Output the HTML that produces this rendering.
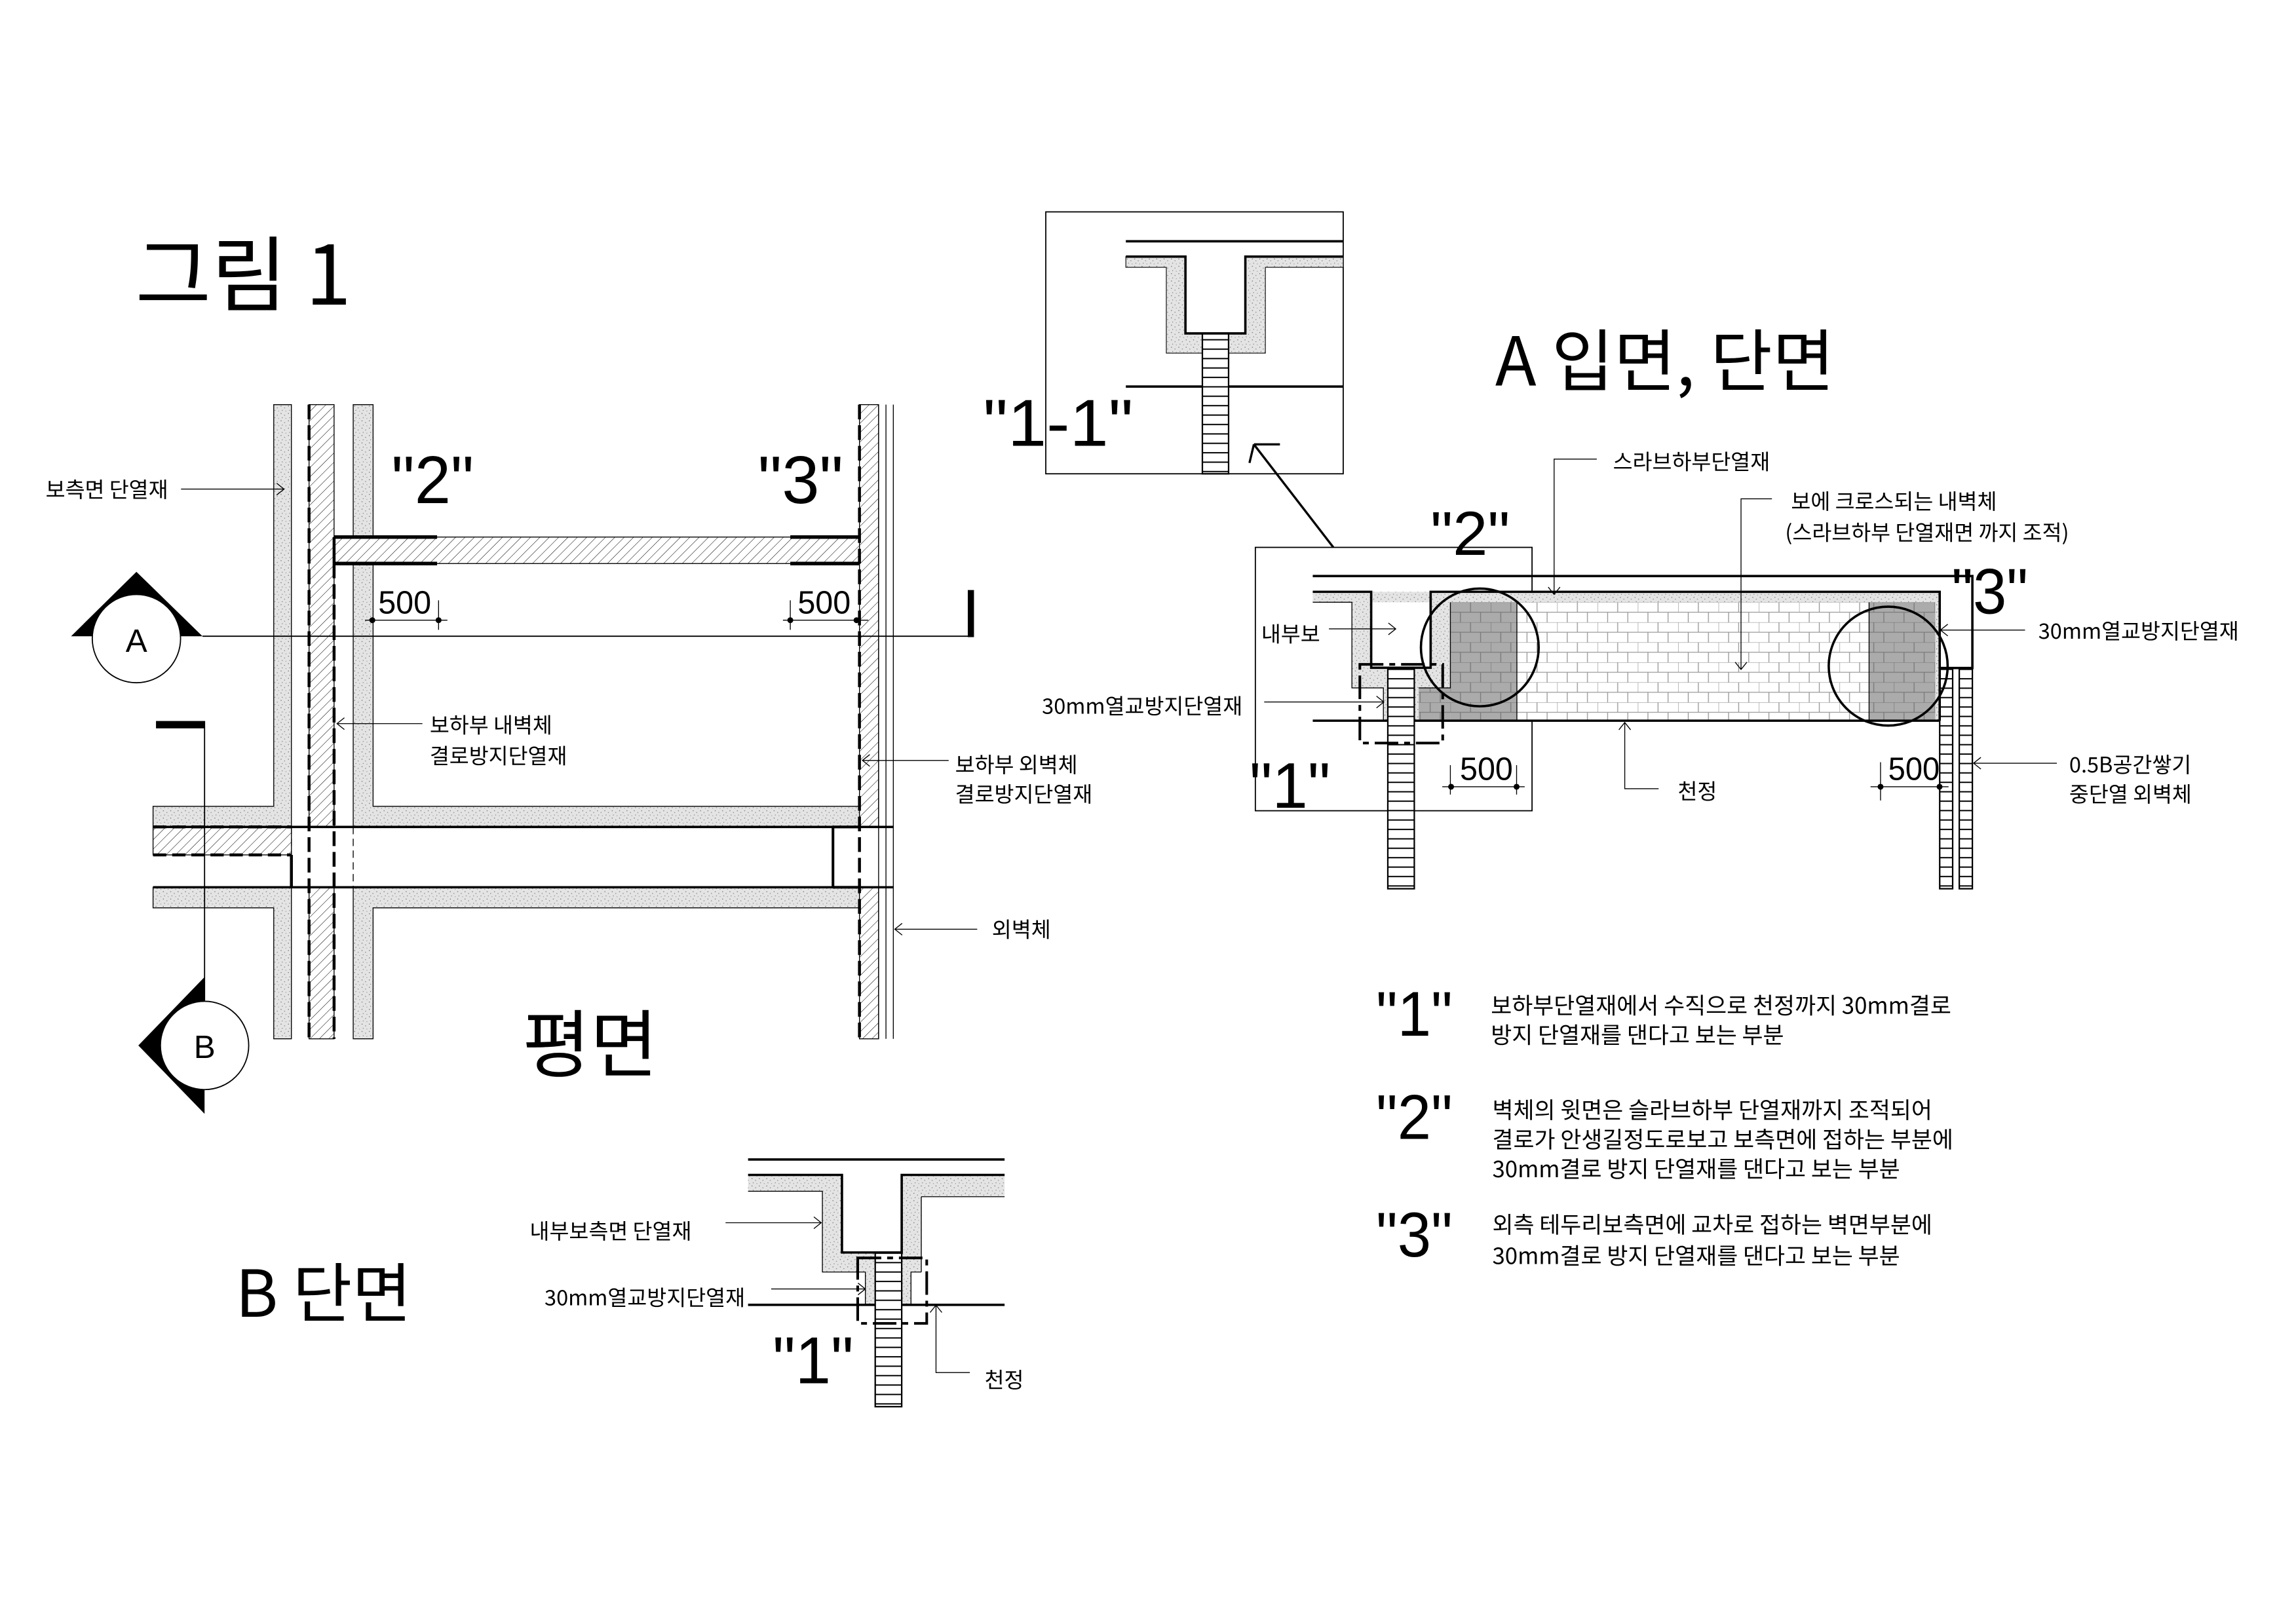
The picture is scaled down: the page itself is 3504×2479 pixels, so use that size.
<!DOCTYPE html>
<html><head><meta charset="utf-8">
<style>
html,body{margin:0;padding:0;background:#fff;}
svg{display:block;}
text{font-family:"Liberation Sans","Noto Sans CJK KR",sans-serif;fill:#000;}
.k{font-family:"Noto Sans CJK KR","Liberation Sans",sans-serif;}
</style></head>
<body>
<svg width="3504" height="2479" viewBox="0 0 1560.1 1103.7" preserveAspectRatio="none" xmlns="http://www.w3.org/2000/svg">
<defs>
<pattern id="st" width="5" height="5" patternUnits="userSpaceOnUse">
<rect width="5" height="5" fill="#e4e4e4"/>
<circle cx="1" cy="1" r="0.35" fill="#777"/><circle cx="3.4" cy="2.2" r="0.35" fill="#888"/>
<circle cx="1.8" cy="3.9" r="0.3" fill="#777"/><circle cx="4.3" cy="4.4" r="0.3" fill="#999"/>
</pattern>
<pattern id="ht" width="4.5" height="4.5" patternUnits="userSpaceOnUse" patternTransform="rotate(45)">
<rect width="4.5" height="4.5" fill="#fff"/><line x1="0" y1="0" x2="0" y2="4.5" stroke="#000" stroke-width="0.45"/>
</pattern>
<pattern id="bl" width="27.4" height="13.6" patternUnits="userSpaceOnUse" x="1030.7" y="409.3">
<rect width="27.4" height="13.6" fill="#fff"/>
<path d="M0,0H27.4M0,6.8H27.4M0,0V6.8M13.7,0V6.8M6.85,6.8V13.6M20.55,6.8V13.6" stroke="#999" stroke-width="0.6" fill="none"/>
</pattern>
<pattern id="bg" width="27.4" height="13.6" patternUnits="userSpaceOnUse" x="985.5" y="409.3">
<rect width="27.4" height="13.6" fill="#ababab"/>
<path d="M0,0H27.4M0,6.8H27.4M0,0V6.8M13.7,0V6.8M6.85,6.8V13.6M20.55,6.8V13.6" stroke="#7a7a7a" stroke-width="0.6" fill="none"/>
</pattern>
<pattern id="ld" width="40" height="6.4" patternUnits="userSpaceOnUse" x="0" y="0">
<rect width="40" height="6.4" fill="#fff"/><line x1="0" y1="0.5" x2="40" y2="0.5" stroke="#000" stroke-width="0.9"/>
</pattern>
</defs>

<!-- Titles -->
<text x="92" y="207" class="k" font-size="56">그림 1</text>
<text x="1016" y="262" class="k" font-size="46">A 입면, 단면</text>
<text x="355" y="728" class="k" font-size="50">평면</text>
<text x="160" y="895" class="k" font-size="44">B 단면</text>

<!-- ================= PLAN ================= -->
<g stroke="#000" stroke-width="0.6">
<!-- stipple walls -->
<path d="M186,275H198V562H104V548H186Z" fill="url(#st)"/>
<path d="M104,603H198V706H186V617H104Z" fill="url(#st)"/>
<path d="M240,275H253.5V365H240Z" fill="url(#st)"/>
<path d="M240,383H253.5V548H584V562H240Z" fill="url(#st)"/>
<path d="M240,603H584V617H253.5V706H240Z" fill="url(#st)"/>
<!-- hatch -->
<rect x="210" y="275" width="17" height="287" fill="url(#ht)"/>
<rect x="210" y="603" width="17" height="103" fill="url(#ht)"/>
<rect x="227" y="365" width="357" height="18" fill="url(#ht)"/>
<rect x="584" y="275" width="13" height="287" fill="url(#ht)"/>
<rect x="584" y="603" width="13" height="103" fill="url(#ht)"/>
<rect x="104" y="562" width="94" height="19" fill="url(#ht)"/>
<!-- thin lines -->
<path d="M597,275V706M602,275V706M607,275V706" fill="none"/>
<path d="M198,562V603M240,562V603" fill="none" stroke-dasharray="5 3"/>
</g>
<g stroke="#000" fill="none">
<path d="M104,562H607M104,603H607" stroke-width="1.6"/>
<path d="M104,562H198M104,581H198" stroke-width="2" stroke-dasharray="9 4"/>
<path d="M198,581V603" stroke-width="2"/>
<path d="M566,562V603M566,562H584M566,603H584" stroke-width="1.8"/>
<path d="M210,275V706" stroke-width="2" stroke-dasharray="10 4"/>
<path d="M227,383V706" stroke-width="2" stroke-dasharray="10 4"/>
<path d="M227,365V383" stroke-width="2"/>
<path d="M584,275V706" stroke-width="2" stroke-dasharray="10 4"/>
<path d="M227,365H297M227,383H297M537,365H584M537,383H584" stroke-width="2.4"/>
</g>
<!-- dims plan -->
<g stroke="#000" stroke-width="0.6" fill="none">
<path d="M248,421.5H304M298,408V428M532,421.5H590M537,408V428"/>
</g>
<circle cx="253" cy="421.5" r="2" fill="#000"/><circle cx="298" cy="421.5" r="2" fill="#000"/>
<circle cx="537" cy="421.5" r="2" fill="#000"/><circle cx="582" cy="421.5" r="2" fill="#000"/>
<text x="257" y="417" font-size="22" textLength="36" lengthAdjust="spacingAndGlyphs">500</text>
<text x="542" y="417" font-size="22" textLength="36" lengthAdjust="spacingAndGlyphs">500</text>
<text x="266" y="342" font-size="46" textLength="56" lengthAdjust="spacingAndGlyphs">"2"</text>
<text x="515" y="342" font-size="46" textLength="58" lengthAdjust="spacingAndGlyphs">"3"</text>

<!-- section A marker -->
<path d="M137.6,432.4H661.5" stroke="#000" stroke-width="0.8"/>
<rect x="657.6" y="401" width="4.2" height="32" fill="#000"/>
<path d="M48.3,432.4L92.7,388.6L137.6,432.4Z" fill="#000"/>
<circle cx="92.7" cy="434" r="30" fill="#fff" stroke="#000" stroke-width="0.8"/>
<text x="92.7" y="443" font-size="22" text-anchor="middle">A</text>
<!-- section B marker -->
<path d="M139,490V680" stroke="#000" stroke-width="0.8"/>
<rect x="106" y="490" width="33" height="5" fill="#000"/>
<path d="M94,710.5L139,664L139,757Z" fill="#000"/>
<circle cx="139" cy="710.5" r="30" fill="#fff" stroke="#000" stroke-width="0.8"/>
<text x="139" y="719" font-size="22" text-anchor="middle">B</text>

<!-- plan labels -->
<g stroke="#000" stroke-width="0.6" fill="none">
<path d="M123,332.4H193M188,328.4L193,332.4L188,336.4"/>
<path d="M287,491.8H229M234,487.8L229,491.8L234,495.8"/>
<path d="M644.6,516.8H586M591,512.8L586,516.8L591,520.8"/>
<path d="M664,631.5H608M613,627.5L608,631.5L613,635.5"/>
</g>
<text x="31" y="338" class="k" font-size="14.5">보측면 단열재</text>
<text x="292" y="498" class="k" font-size="14.5">보하부 내벽체</text>
<text x="292" y="519" class="k" font-size="14.5">결로방지단열재</text>
<text x="649" y="525" class="k" font-size="14.5">보하부 외벽체</text>
<text x="649" y="545" class="k" font-size="14.5">결로방지단열재</text>
<text x="674" y="637" class="k" font-size="14.5">외벽체</text>

<!-- ================= 1-1 BOX ================= -->
<rect x="710.6" y="144" width="202.1" height="178" fill="none" stroke="#000" stroke-width="0.8"/>
<g stroke="#000" stroke-width="0.5">
<path d="M765,174.4H805.5V226.6H846.2V174.4H912.7V181.7H859.8V240H834.8V226.6H817V240H792.5V181.7H765Z" fill="url(#st)"/>
</g>
<rect x="817" y="226.6" width="17.8" height="95.4" fill="url(#ld)" stroke="#000" stroke-width="1"/>
<g stroke="#000" fill="none" stroke-width="1.6">
<path d="M765,164H912.7"/>
<path d="M765,174.4H805.5V226.6H846.2V174.4H912.7"/>
<path d="M765,262.7H817M834.8,262.7H912.7"/>
</g>
<text x="668" y="303" font-size="45" textLength="102" lengthAdjust="spacingAndGlyphs">"1-1"</text>

<!-- ================= A SECTION ================= -->
<rect x="853" y="372" width="188" height="179" fill="none" stroke="#000" stroke-width="0.8"/>
<path d="M906,372L852,302M852,302H869.7M852,302L849,314.6" stroke="#000" stroke-width="1.5" fill="none"/>
<!-- stipple -->
<g stroke="none">
<rect x="892" y="402.2" width="426" height="7.1" fill="url(#st)"/>
<rect x="918.6" y="409.3" width="13.1" height="58.2" fill="url(#st)"/>
<rect x="918.6" y="453.8" width="67" height="13.7" fill="url(#st)"/>
<rect x="972.1" y="409.3" width="13.4" height="58.2" fill="url(#st)"/>
<rect x="940" y="467.5" width="3" height="22.3" fill="url(#st)"/>
<rect x="961" y="467.5" width="3" height="22.3" fill="url(#st)"/>
<rect x="1315" y="409.3" width="3" height="80.5" fill="url(#st)"/>
</g>
<rect x="1030.7" y="409.3" width="239.3" height="80.5" fill="url(#bl)"/>
<rect x="985.5" y="409.3" width="45.2" height="80.5" fill="url(#bg)"/>
<rect x="964" y="467.5" width="21.5" height="22.3" fill="url(#bg)"/>
<rect x="1270" y="409.3" width="45" height="80.5" fill="url(#bg)"/>
<path d="M892,409.3H918.6V467.5H940V489.8M1030.7,409.3V489.8M1270,409.3V489.8M985.5,409.3V467.5H964" stroke="#000" stroke-width="0.6" fill="none"/>
<!-- bricks -->
<rect x="943" y="453.8" width="18" height="150.2" fill="url(#ld)" stroke="#000" stroke-width="1"/>
<rect x="1318" y="454" width="8.8" height="150" fill="url(#ld)" stroke="#000" stroke-width="1"/>
<rect x="1331.3" y="454" width="8.9" height="150" fill="url(#ld)" stroke="#000" stroke-width="1"/>
<g stroke="#000" fill="none" stroke-width="1.6">
<path d="M892,391.5H1340.2V454H1318"/>
<path d="M892,402.2H931.7V453.8H972.1V402.2H1318V489.8"/>
<path d="M892,489.8H943M961,489.8H1318"/>
<path d="M924,451.5H980.3V505H924Z" stroke-width="1.8" stroke-dasharray="16 4 4 4"/>
</g>
<circle cx="1005.5" cy="440" r="40" fill="none" stroke="#000" stroke-width="1.6"/>
<circle cx="1283" cy="452.7" r="40.4" fill="none" stroke="#000" stroke-width="1.6"/>
<!-- dims A -->
<g stroke="#000" stroke-width="0.6" fill="none">
<path d="M980,534.7H1036M985.5,520V540M1030.5,520V540M1271,534.7H1324M1277.8,518V544"/>
</g>
<circle cx="986" cy="534.7" r="2" fill="#000"/><circle cx="1030.5" cy="534.7" r="2" fill="#000"/>
<circle cx="1277.8" cy="534.7" r="2" fill="#000"/><circle cx="1317.9" cy="534.7" r="2" fill="#000"/>
<text x="992" y="530" font-size="22" textLength="36" lengthAdjust="spacingAndGlyphs">500</text>
<text x="1283" y="530" font-size="22" textLength="35" lengthAdjust="spacingAndGlyphs">500</text>
<text x="972" y="377" font-size="42" textLength="54" lengthAdjust="spacingAndGlyphs">"2"</text>
<text x="1326" y="417" font-size="44" textLength="52" lengthAdjust="spacingAndGlyphs">"3"</text>
<text x="849" y="549" font-size="44" textLength="55" lengthAdjust="spacingAndGlyphs">"1"</text>
<!-- A leaders -->
<g stroke="#000" stroke-width="0.6" fill="none">
<path d="M1085,312H1056V404M1052,399L1056,404L1060,399"/>
<path d="M1204,339H1183V455M1179,450L1183,455L1187,450"/>
<path d="M903,427.4H948.4M943.4,423.4L948.4,427.4L943.4,431.4"/>
<path d="M859,477.1H940.3M935.3,473.1L940.3,477.1L935.3,481.1"/>
<path d="M1376,428.2H1318.5M1323.5,424.2L1318.5,428.2L1323.5,432.2"/>
<path d="M1104,491V536H1127M1100,496L1104,491L1108,496"/>
<path d="M1397.6,518.7H1341M1346,514.7L1341,518.7L1346,522.7"/>
</g>
<text x="1096" y="319" class="k" font-size="14.5">스라브하부단열재</text>
<text x="1217" y="346" class="k" font-size="14.5">보에 크로스되는 내벽체</text>
<text x="1213" y="367" class="k" font-size="14.5">(스라브하부 단열재면 까지 조적)</text>
<text x="857" y="436" class="k" font-size="14.5">내부보</text>
<text x="708" y="485" class="k" font-size="14.5">30mm열교방지단열재</text>
<text x="1385" y="434" class="k" font-size="14.5">30mm열교방지단열재</text>
<text x="1140" y="543" class="k" font-size="14.5">천정</text>
<text x="1406" y="525" class="k" font-size="14.5">0.5B공간쌓기</text>
<text x="1406" y="545" class="k" font-size="14.5">중단열 외벽체</text>

<!-- ================= B SECTION ================= -->
<g stroke="none">
<path d="M508.3,798.5H572.1V851.2H612.7V798.5H682.6V813.3H626V864.5H612.7V851.2H594.7V864.5H558.8V809.6H508.3Z" fill="url(#st)"/>
<rect x="588" y="864.5" width="6.7" height="22.3" fill="url(#st)"/>
<rect x="612.7" y="864.5" width="6.3" height="22.3" fill="url(#st)"/>
</g>
<path d="M508.3,809.6H558.8V864.5H588V886.8M626,864.5H619V886.8M626,813.3V864.5M682.6,813.3H626" stroke="#000" stroke-width="0.6" fill="none"/>
<rect x="594.7" y="851.2" width="18" height="104.8" fill="url(#ld)" stroke="#000" stroke-width="1"/>
<g stroke="#000" fill="none" stroke-width="1.6">
<path d="M508.3,788H682.6"/>
<path d="M508.3,798.5H572.1V851.2H612.7V798.5H682.6"/>
<path d="M508.3,886.8H594.7M612.7,886.8H682.6"/>
<path d="M582.8,854.9H629.7V899.4H582.8Z" stroke-width="1.8" stroke-dasharray="16 4 4 4"/>
</g>
<g stroke="#000" stroke-width="0.6" fill="none">
<path d="M493,831H558M553,827L558,831L553,835"/>
<path d="M524,876H588M583,872L588,876L583,880"/>
<path d="M636,887V932.8H659M632,892L636,887L640,892"/>
</g>
<text x="360" y="842" class="k" font-size="14.5">내부보측면 단열재</text>
<text x="370" y="887" class="k" font-size="14.5">30mm열교방지단열재</text>
<text x="669" y="943" class="k" font-size="14.5">천정</text>
<text x="525" y="940" font-size="45" textLength="55" lengthAdjust="spacingAndGlyphs">"1"</text>

<!-- ================= NOTES ================= -->
<text x="935" y="704" font-size="43" textLength="52" lengthAdjust="spacingAndGlyphs">"1"</text>
<text x="935" y="774" font-size="43" textLength="52" lengthAdjust="spacingAndGlyphs">"2"</text>
<text x="935" y="854" font-size="43" textLength="52" lengthAdjust="spacingAndGlyphs">"3"</text>
<g class="k" font-size="15.5">
<text x="1013" y="689" class="k">보하부단열재에서 수직으로 천정까지 30mm결로</text>
<text x="1013" y="709" class="k">방지 단열재를 댄다고 보는 부분</text>
<text x="1014" y="760" class="k">벽체의 윗면은 슬라브하부 단열재까지 조적되어</text>
<text x="1014" y="780" class="k">결로가 안생길정도로보고 보측면에 접하는 부분에</text>
<text x="1014" y="800" class="k">30mm결로 방지 단열재를 댄다고 보는 부분</text>
<text x="1014" y="838" class="k">외측 테두리보측면에 교차로 접하는 벽면부분에</text>
<text x="1014" y="859" class="k">30mm결로 방지 단열재를 댄다고 보는 부분</text>
</g>
</svg>
</body></html>
